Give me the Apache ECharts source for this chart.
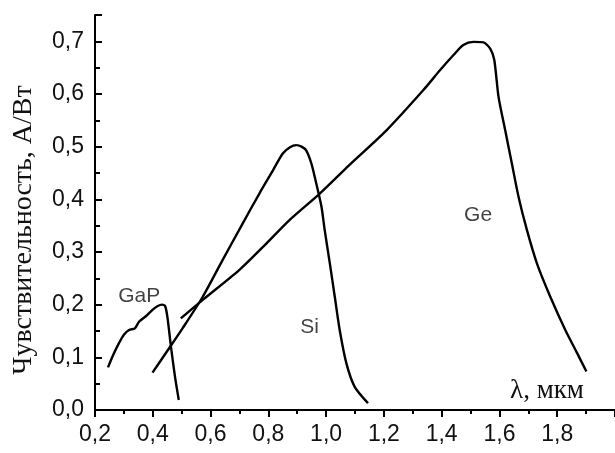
<!DOCTYPE html>
<html>
<head>
<meta charset="utf-8">
<script src="https://cdn.jsdelivr.net/npm/echarts@6/dist/echarts.min.js"></script>
<style>
  html, body { margin: 0; padding: 0; background: #fff; }
  #chart { width: 615px; height: 453px; }
</style>
</head>
<body>
<div id="chart"></div>
<script>
// спектральная чувствительность фотодиодов: [λ, мкм ; S, А/Вт]
var gapCurve = [
  [0.245, 0.081], [0.266, 0.108], [0.283, 0.127], [0.300, 0.143], [0.318, 0.152],
  [0.338, 0.155], [0.353, 0.168], [0.376, 0.178], [0.399, 0.190], [0.416, 0.197],
  [0.432, 0.200], [0.443, 0.197], [0.451, 0.175], [0.463, 0.120], [0.477, 0.063],
  [0.490, 0.019]
];
var siCurve = [
  [0.399, 0.071], [0.450, 0.112], [0.503, 0.155], [0.573, 0.215], [0.642, 0.285],
  [0.711, 0.354], [0.769, 0.411], [0.816, 0.455], [0.850, 0.487], [0.875, 0.499],
  [0.897, 0.503], [0.915, 0.500], [0.931, 0.493], [0.949, 0.468], [0.966, 0.430],
  [0.984, 0.386], [0.995, 0.342], [1.013, 0.278], [1.030, 0.215], [1.047, 0.152],
  [1.070, 0.089], [1.099, 0.044], [1.145, 0.013]
];
var geCurve = [
  [0.497, 0.174], [0.573, 0.209], [0.700, 0.266], [0.793, 0.316], [0.874, 0.361],
  [0.978, 0.411], [1.082, 0.466], [1.209, 0.531], [1.336, 0.607], [1.394, 0.645],
  [1.441, 0.674], [1.475, 0.693], [1.510, 0.699], [1.545, 0.698], [1.568, 0.686],
  [1.582, 0.665], [1.597, 0.594], [1.620, 0.531], [1.643, 0.468], [1.666, 0.405],
  [1.695, 0.342], [1.730, 0.278], [1.776, 0.215], [1.828, 0.152], [1.869, 0.108],
  [1.901, 0.073]
];
// подписи кривых
var curveNames = ['GaP', 'Si', 'Ge'];
var curveLabelX = [0.353, 0.943, 1.526];
var curveLabelY = [0.216, 0.157, 0.370];

var xTitle = 'λ, мкм';
var yTitle = 'Чувствительность, А/Вт';

function comma(v) { return v.toFixed(1).replace('.', ','); }

var chart = echarts.init(document.getElementById('chart'), null, { renderer: 'canvas' });

var lineStyle = { color: '#000', width: 2.4 };
function curve(name, data) {
  return {
    name: name,
    type: 'line',
    data: data,
    smooth: 0.25,
    symbol: 'none',
    lineStyle: lineStyle,
    silent: true
  };
}

chart.setOption({
  animation: false,
  backgroundColor: '#fff',
  grid: { left: 95, right: 0, top: 15, bottom: 43, containLabel: false, outerBoundsMode: 'none' },
  xAxis: {
    type: 'value',
    min: 0.2,
    max: 2.0,
    interval: 0.2,
    axisLine: { lineStyle: { color: '#000', width: 2 } },
    axisTick: { inside: false, length: 7, lineStyle: { color: '#000', width: 2 } },
    minorTick: { show: true, splitNumber: 2, length: 4, lineStyle: { color: '#000', width: 2 } },
    splitLine: { show: false },
    axisLabel: {
      color: '#111', fontFamily: 'Liberation Sans', fontSize: 23, margin: 13,
      showMaxLabel: false, formatter: comma
    }
  },
  yAxis: {
    type: 'value',
    min: 0,
    max: 0.75,
    interval: 0.1,
    axisLine: { show: true, lineStyle: { color: '#000', width: 2 } },
    axisTick: { show: true, inside: true, length: 7, lineStyle: { color: '#000', width: 2 } },
    minorTick: { show: true, splitNumber: 2, length: 5, lineStyle: { color: '#000', width: 2 } },
    splitLine: { show: false },
    axisLabel: {
      color: '#111', fontFamily: 'Liberation Sans', fontSize: 23, margin: 11,
      padding: [10, 0, 0, 0],
      showMaxLabel: false, formatter: comma
    }
  },
  graphic: [
    {
      type: 'text', x: 24, y: 230, rotation: Math.PI / 2,
      style: {
        text: yTitle, fill: '#111', fontSize: 28, fontFamily: 'Liberation Serif',
        align: 'center', verticalAlign: 'middle'
      }
    },
    {
      type: 'text', x: 547, y: 391,
      style: {
        text: xTitle, fill: '#111', fontSize: 27, fontFamily: 'Liberation Serif',
        align: 'center', verticalAlign: 'middle'
      }
    }
  ],
  series: [
    curve('GaP', gapCurve),
    curve('Si', siCurve),
    curve('Ge', geCurve),
    {
      type: 'scatter',
      symbolSize: 0,
      silent: true,
      data: curveNames.map(function (n, i) {
        return { name: n, value: [curveLabelX[i], curveLabelY[i]] };
      }),
      label: {
        show: true, position: 'inside', formatter: '{b}',
        color: '#111', fontFamily: 'Liberation Sans', fontSize: 21
      }
    }
  ]
});
</script>
</body>
</html>
